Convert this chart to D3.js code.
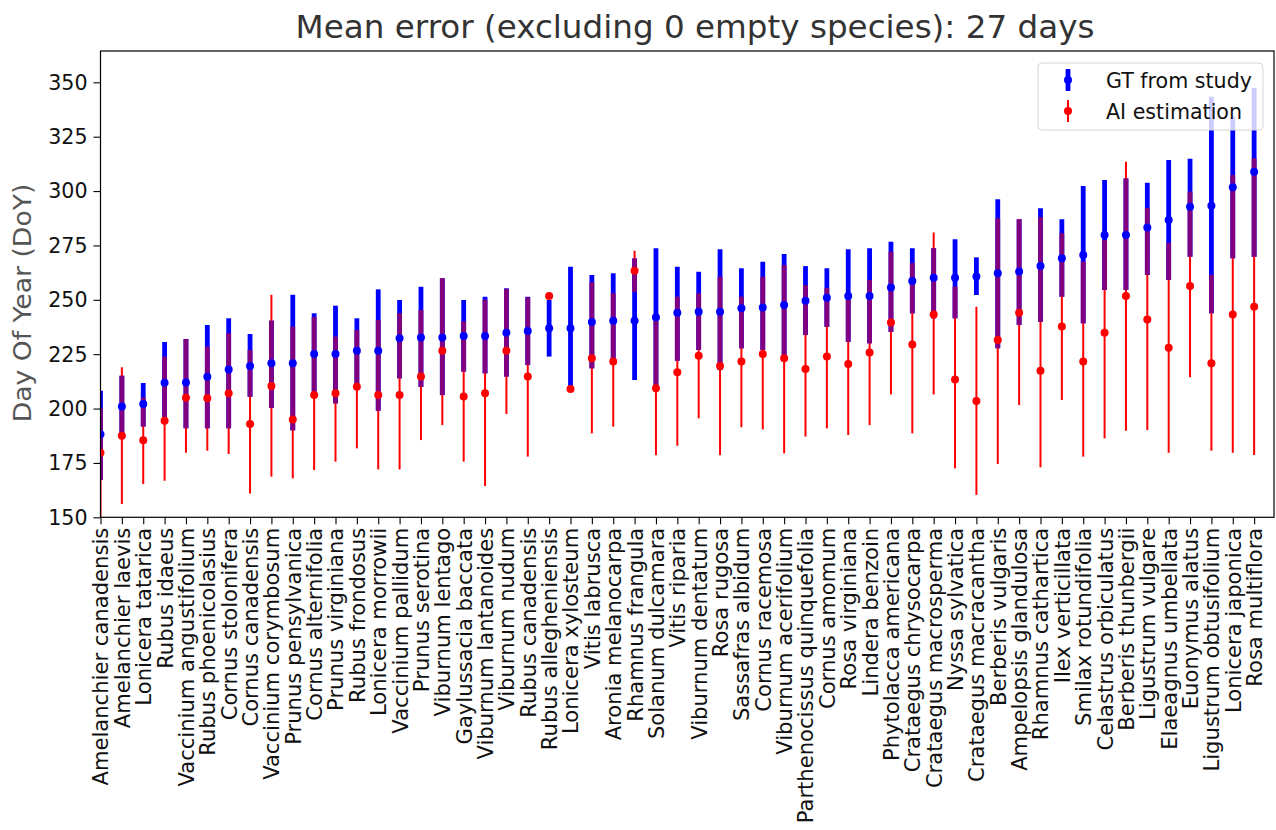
<!DOCTYPE html>
<html>
<head>
<meta charset="utf-8">
<script src="https://cdn.jsdelivr.net/npm/d3@7"></script>
<style>
  html, body { margin: 0; padding: 0; background: #fff; }
  svg { display: block; font-family: "DejaVu Sans", sans-serif; }
</style>
</head>
<body>
<svg id="chart" width="1276" height="830"></svg>
<script>
// Species ordered by mean ground-truth day of year
const species = [
  "Amelanchier canadensis", "Amelanchier laevis", "Lonicera tatarica", "Rubus idaeus",
  "Vaccinium angustifolium", "Rubus phoenicolasius", "Cornus stolonifera", "Cornus canadensis",
  "Vaccinium corymbosum", "Prunus pensylvanica", "Cornus alternifolia", "Prunus virginiana",
  "Rubus frondosus", "Lonicera morrowii", "Vaccinium pallidum", "Prunus serotina",
  "Viburnum lentago", "Gaylussacia baccata", "Viburnum lantanoides", "Viburnum nudum",
  "Rubus canadensis", "Rubus allegheniensis", "Lonicera xylosteum", "Vitis labrusca",
  "Aronia melanocarpa", "Rhamnus frangula", "Solanum dulcamara", "Vitis riparia",
  "Viburnum dentatum", "Rosa rugosa", "Sassafras albidum", "Cornus racemosa",
  "Viburnum acerifolium", "Parthenocissus quinquefolia", "Cornus amomum", "Rosa virginiana",
  "Lindera benzoin", "Phytolacca americana", "Crataegus chrysocarpa", "Crataegus macrosperma",
  "Nyssa sylvatica", "Crataegus macracantha", "Berberis vulgaris", "Ampelopsis glandulosa",
  "Rhamnus cathartica", "Ilex verticillata", "Smilax rotundifolia", "Celastrus orbiculatus",
  "Berberis thunbergii", "Ligustrum vulgare", "Elaeagnus umbellata", "Euonymus alatus",
  "Ligustrum obtusifolium", "Lonicera japonica", "Rosa multiflora"
];

// Ground truth from the study: mean, lower and upper bound (day of year)
const gtMean = [188.2, 200.9, 202.1, 211.9, 212, 214.6, 218, 219.6, 220.8, 220.8, 225.1, 225.1, 226.6, 226.6, 232.3,
  232.7, 232.7, 233.4, 233.4, 234.9, 235.7, 236.9, 236.9, 239.8, 240.4, 240.4, 242, 244.1, 244.5, 244.5,
  246.1, 246.5, 247.6, 249.6, 251, 251.7, 251.7, 255.7, 258.6, 260.2, 260.2, 260.7, 262.2, 263, 265.5,
  269.1, 270.6, 279.8, 279.8, 283.2, 286.7, 292.8, 293.3, 301.7, 308.9];
const gtLow = [167.1, 187, 191.7, 196, 191, 191, 191, 205.4, 200.3, 190, 207, 202.4, 211, 199, 213.9,
  210, 206.2, 217, 216.2, 214.7, 220, 223.9, 210, 218.5, 221, 213.1, 210, 222, 226.9, 217.7,
  227.7, 226.9, 223.9, 233.8, 237.6, 230.7, 230, 235.3, 243.8, 241.5, 241.5, 252.2, 227.7, 238.4, 239.9,
  251.4, 239.2, 254.5, 254.5, 261.4, 259.1, 269.8, 243.8, 269.1, 269.8];
const gtHigh = [208.2, 215.1, 211.7, 230.6, 232, 238.4, 241.5, 234.3, 240.4, 252.3, 243.8, 247.3, 241.5, 254.8, 249.9,
  256, 259.9, 249.9, 251.4, 255.3, 251.4, 249.9, 265.2, 261.4, 262.2, 269, 273.7, 265.2, 262.9, 273.2,
  264.5, 267.5, 271.1, 265.5, 264.5, 273.2, 273.7, 276.7, 273.7, 273.7, 277.8, 269.5, 296.2, 287, 292.1,
  287, 302.3, 305.1, 305.8, 303.8, 314.3, 314.9, 343.4, 334.2, 347.4];

// AI estimation: mean, lower and upper bound (day of year)
const aiMean = [179.7, 187.5, 185.4, 194.4, 205, 204.7, 207, 192.9, 210.4, 195, 206.2, 207, 210, 206.2, 206.2,
  214.7, 226.6, 205.5, 207, 226.6, 214.7, 251.8, 209, 223.1, 221.6, 263.4, 209.3, 216.7, 224.3, 219.6,
  221.6, 225.1, 223.1, 218.2, 223.9, 220.5, 225.8, 239.6, 229.5, 243.3, 213.4, 203.5, 231.5, 244.1, 217.4,
  237.7, 221.6, 234.9, 251.7, 241, 228, 256.3, 220.8, 243.3, 246.8];
const aiLow = [145, 156.1, 165.3, 166.8, 179.7, 180.6, 179.1, 161, 168.7, 167.9, 171.7, 175.6, 181.7, 172, 172,
  185.5, 192.4, 175.6, 164.4, 197.5, 177.9, 251.8, 209, 188.6, 191.7, 253.7, 178.6, 182.9, 195.5, 178.6,
  191.4, 190.4, 179.4, 187.1, 190.9, 187.8, 192.4, 206.5, 188.6, 206.5, 172.5, 160.3, 174.5, 201.6, 173,
  203.9, 177.9, 186.3, 189.8, 190.1, 179.7, 214.4, 180.6, 179.7, 178.6];
const aiHigh = [200, 219, 205, 223.8, 232, 228.4, 234.6, 226.9, 252.3, 237.6, 242, 233, 236.1, 240.7, 243.8,
  245.3, 259.9, 240, 250, 255, 251, 251.8, 209, 258, 253, 272.6, 241, 251.4, 253, 260.6,
  251.4, 260.6, 266, 256.8, 255.3, 249.9, 259.1, 272.1, 266.8, 281, 256, 246.8, 287.4, 287, 288,
  280.6, 267.5, 277.5, 313.5, 292.1, 276, 299.7, 261.4, 307.4, 315];

const yTicks = [150, 175, 200, 225, 250, 275, 300, 325, 350];
const seriesNames = ["GT from study", "AI estimation"];
const titleText = "Mean error (excluding 0 empty species): 27 days";
const yLabelText = "Day Of Year (DoY)";

// ---- layout ----
const plot = { left: 100.5, right: 1274, top: 51, bottom: 517.3 };
const colors = { gt: "#0000ff", ai: "#ff0000", both: "#800080" };
const labelFont = 20.6;
const stretch = 1.05;       // glyphs are a little taller than they are wide
const xLabelStretch = 1.025;

const svg = d3.select("#chart");

const x = d3.scaleLinear().domain([0, 54.93]).range([plot.left, plot.right]);
const y = d3.scaleLinear().domain([150, 364.4]).range([plot.bottom, plot.top]);

const rows = species.map((name, i) => ({
  i, name,
  gm: gtMean[i], gl: gtLow[i], gh: gtHigh[i],
  am: aiMean[i], al: aiLow[i], ah: aiHigh[i]
}));

svg.append("defs").append("clipPath").attr("id", "plot-clip")
  .append("rect")
  .attr("x", plot.left).attr("y", plot.top)
  .attr("width", plot.right - plot.left).attr("height", plot.bottom - plot.top);

const g = svg.append("g").attr("clip-path", "url(#plot-clip)");

// ground-truth range: thick blue bars
g.selectAll("line.gt").data(rows).join("line")
  .attr("class", "gt")
  .attr("x1", d => x(d.i)).attr("x2", d => x(d.i))
  .attr("y1", d => y(d.gl)).attr("y2", d => y(d.gh))
  .attr("stroke", colors.gt).attr("stroke-width", 4.8);

// AI range: thin red bars
g.selectAll("line.ai").data(rows.filter(d => d.ah > d.al)).join("line")
  .attr("class", "ai")
  .attr("x1", d => x(d.i)).attr("x2", d => x(d.i))
  .attr("y1", d => y(d.al)).attr("y2", d => y(d.ah))
  .attr("stroke", colors.ai).attr("stroke-width", 2);

// where both ranges overlap the thick bar turns purple
const overlap = rows
  .map(d => ({ i: d.i, lo: Math.max(d.gl, d.al), hi: Math.min(d.gh, d.ah) }))
  .filter(d => d.hi > d.lo);
g.selectAll("line.both").data(overlap).join("line")
  .attr("class", "both")
  .attr("x1", d => x(d.i)).attr("x2", d => x(d.i))
  .attr("y1", d => y(d.lo)).attr("y2", d => y(d.hi))
  .attr("stroke", colors.both).attr("stroke-width", 4.8);

// mean markers
g.selectAll("circle.gt").data(rows).join("circle")
  .attr("class", "gt")
  .attr("cx", d => x(d.i)).attr("cy", d => y(d.gm)).attr("r", 4)
  .attr("fill", colors.gt);
g.selectAll("circle.ai").data(rows).join("circle")
  .attr("class", "ai")
  .attr("cx", d => x(d.i)).attr("cy", d => y(d.am)).attr("r", 4)
  .attr("fill", colors.ai);

// ---- axes ----
const yAxis = svg.append("g")
  .attr("transform", `translate(${plot.left},0)`)
  .call(d3.axisLeft(y).tickValues(yTicks).tickSize(7).tickPadding(6).tickFormat(d3.format("d")));
yAxis.select(".domain").remove();
yAxis.selectAll("text")
  .attr("font-size", labelFont).attr("fill", "#111").attr("font-family", "DejaVu Sans")
  .attr("transform", `scale(1,${stretch})`);
yAxis.selectAll("line").attr("stroke", "#000").attr("stroke-width", 1.1);

const xAxis = svg.append("g")
  .attr("transform", `translate(0,${plot.bottom})`)
  .call(d3.axisBottom(x).tickValues(d3.range(species.length)).tickSize(7).tickFormat(i => species[i]));
xAxis.select(".domain").remove();
xAxis.selectAll("line").attr("stroke", "#000").attr("stroke-width", 1.1);
xAxis.selectAll("text")
  .attr("font-size", labelFont).attr("fill", "#111").attr("font-family", "DejaVu Sans")
  .attr("text-anchor", "end")
  .attr("transform", `rotate(-90) scale(${xLabelStretch},1)`)
  .attr("x", -10.2).attr("y", 0).attr("dy", "0.36em");

// frame
svg.append("rect")
  .attr("x", plot.left).attr("y", plot.top)
  .attr("width", plot.right - plot.left).attr("height", plot.bottom - plot.top)
  .attr("fill", "none").attr("stroke", "#000").attr("stroke-width", 1.2);

// title and axis label
svg.append("text")
  .attr("transform", `translate(695,38) scale(1,0.99)`)
  .attr("text-anchor", "middle")
  .attr("font-size", 32.6).attr("fill", "#333")
  .text(titleText);

svg.append("text")
  .attr("transform", `translate(31,303) rotate(-90) scale(1.075,1)`)
  .attr("text-anchor", "middle")
  .attr("font-size", 24.8).attr("fill", "#555")
  .text(yLabelText);

// ---- legend ----
const legend = svg.append("g");
legend.append("rect")
  .attr("x", 1038).attr("y", 63).attr("width", 225).attr("height", 67)
  .attr("rx", 4).attr("ry", 4)
  .attr("fill", "#fff").attr("fill-opacity", 0.8)
  .attr("stroke", "#d6d6d6").attr("stroke-width", 1);

const legendItems = [
  { name: seriesNames[0], color: colors.gt, width: 4.8, cy: 80 },
  { name: seriesNames[1], color: colors.ai, width: 2, cy: 111 }
];
legendItems.forEach(it => {
  legend.append("line")
    .attr("x1", 1068).attr("x2", 1068)
    .attr("y1", it.cy - 11).attr("y2", it.cy + 11)
    .attr("stroke", it.color).attr("stroke-width", it.width);
  legend.append("circle")
    .attr("cx", 1068).attr("cy", it.cy).attr("r", 4).attr("fill", it.color);
  legend.append("text")
    .attr("transform", `translate(1106,${it.cy + 7.5}) scale(1,${stretch})`)
    .attr("font-size", labelFont).attr("fill", "#111")
    .text(it.name);
});
</script>
</body>
</html>
